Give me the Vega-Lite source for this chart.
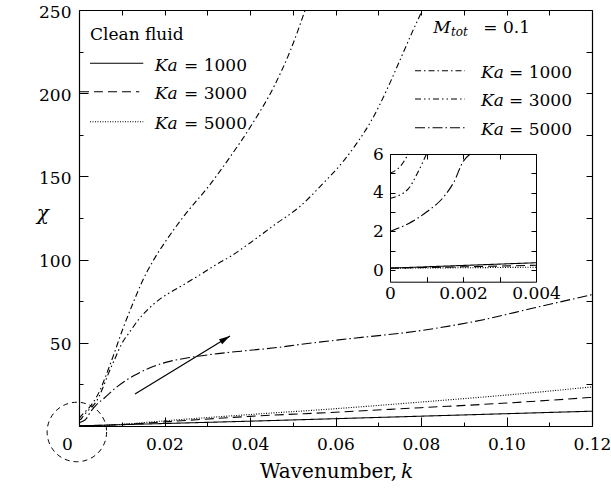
{
  "$schema": "https://vega.github.io/schema/vega-lite/v6.json",
  "width": 513,
  "height": 416,
  "autosize": {"type": "none"},
  "padding": {"left": 79, "top": 10, "right": 19, "bottom": 65},
  "background": "white",
  "config": {
    "view": {"stroke": null},
    "font": "DejaVu Serif",
    "text": {"font": "DejaVu Serif"},
    "axis": {"labelFont": "DejaVu Serif", "labelFontSize": 17, "labelColor": "black", "tickColor": "black", "domainColor": "black", "grid": false, "tickWidth": 1, "domainWidth": 1.2, "labelOverlap": false, "labelBound": false, "labelFlush": false}
  },
  "datasets": {
    "curves": [
      {"s": "c1000", "k": 0, "chi": 0.1}, {"s": "c1000", "k": 0.002, "chi": 0.24}, {"s": "c1000", "k": 0.004, "chi": 0.38}, {"s": "c1000", "k": 0.01, "chi": 0.8}, {"s": "c1000", "k": 0.02, "chi": 1.5}, {"s": "c1000", "k": 0.04, "chi": 2.9}, {"s": "c1000", "k": 0.06, "chi": 4.4}, {"s": "c1000", "k": 0.08, "chi": 5.9}, {"s": "c1000", "k": 0.1, "chi": 7.4}, {"s": "c1000", "k": 0.12, "chi": 8.9},
      {"s": "c3000", "k": 0, "chi": 0.1}, {"s": "c3000", "k": 0.002, "chi": 0.17}, {"s": "c3000", "k": 0.004, "chi": 0.25}, {"s": "c3000", "k": 0.01, "chi": 0.9}, {"s": "c3000", "k": 0.02, "chi": 2.5}, {"s": "c3000", "k": 0.04, "chi": 5.8}, {"s": "c3000", "k": 0.06, "chi": 8.3}, {"s": "c3000", "k": 0.08, "chi": 11}, {"s": "c3000", "k": 0.1, "chi": 13.8}, {"s": "c3000", "k": 0.12, "chi": 17.2},
      {"s": "c5000", "k": 0, "chi": 0.1}, {"s": "c5000", "k": 0.002, "chi": 0.12}, {"s": "c5000", "k": 0.004, "chi": 0.15}, {"s": "c5000", "k": 0.01, "chi": 1.0}, {"s": "c5000", "k": 0.02, "chi": 3.1}, {"s": "c5000", "k": 0.04, "chi": 6.9}, {"s": "c5000", "k": 0.06, "chi": 10.4}, {"s": "c5000", "k": 0.08, "chi": 14.4}, {"s": "c5000", "k": 0.1, "chi": 18.6}, {"s": "c5000", "k": 0.12, "chi": 23.5},
      {"s": "m1000", "k": 0, "chi": 5}, {"s": "m1000", "k": 0.0003, "chi": 5.4}, {"s": "m1000", "k": 0.0005, "chi": 6.1}, {"s": "m1000", "k": 0.001, "chi": 7.4}, {"s": "m1000", "k": 0.002, "chi": 10}, {"s": "m1000", "k": 0.003, "chi": 13}, {"s": "m1000", "k": 0.004, "chi": 17}, {"s": "m1000", "k": 0.005, "chi": 22}, {"s": "m1000", "k": 0.0064, "chi": 31}, {"s": "m1000", "k": 0.008, "chi": 42}, {"s": "m1000", "k": 0.0102, "chi": 58}, {"s": "m1000", "k": 0.0125, "chi": 73}, {"s": "m1000", "k": 0.015, "chi": 88}, {"s": "m1000", "k": 0.0175, "chi": 100}, {"s": "m1000", "k": 0.02, "chi": 110}, {"s": "m1000", "k": 0.0248, "chi": 127}, {"s": "m1000", "k": 0.03, "chi": 143}, {"s": "m1000", "k": 0.0357, "chi": 163}, {"s": "m1000", "k": 0.0404, "chi": 181}, {"s": "m1000", "k": 0.0458, "chi": 205}, {"s": "m1000", "k": 0.0495, "chi": 226}, {"s": "m1000", "k": 0.0529, "chi": 250}, {"s": "m1000", "k": 0.055, "chi": 266},
      {"s": "m3000", "k": 0, "chi": 3.7}, {"s": "m3000", "k": 0.0005, "chi": 4.2}, {"s": "m3000", "k": 0.00075, "chi": 5.0}, {"s": "m3000", "k": 0.001, "chi": 6.1}, {"s": "m3000", "k": 0.0015, "chi": 7.6}, {"s": "m3000", "k": 0.0025, "chi": 10.2}, {"s": "m3000", "k": 0.004, "chi": 14.5}, {"s": "m3000", "k": 0.0055, "chi": 22.5}, {"s": "m3000", "k": 0.0068, "chi": 31}, {"s": "m3000", "k": 0.0085, "chi": 41}, {"s": "m3000", "k": 0.0099, "chi": 49}, {"s": "m3000", "k": 0.012, "chi": 57}, {"s": "m3000", "k": 0.0138, "chi": 63.5}, {"s": "m3000", "k": 0.0165, "chi": 71}, {"s": "m3000", "k": 0.0193, "chi": 77}, {"s": "m3000", "k": 0.0225, "chi": 82}, {"s": "m3000", "k": 0.0255, "chi": 86.5}, {"s": "m3000", "k": 0.029, "chi": 92}, {"s": "m3000", "k": 0.0321, "chi": 97}, {"s": "m3000", "k": 0.0355, "chi": 102}, {"s": "m3000", "k": 0.04, "chi": 110}, {"s": "m3000", "k": 0.0458, "chi": 121}, {"s": "m3000", "k": 0.0517, "chi": 132}, {"s": "m3000", "k": 0.0568, "chi": 145}, {"s": "m3000", "k": 0.0618, "chi": 159}, {"s": "m3000", "k": 0.065, "chi": 170}, {"s": "m3000", "k": 0.0685, "chi": 184}, {"s": "m3000", "k": 0.072, "chi": 202}, {"s": "m3000", "k": 0.0751, "chi": 220}, {"s": "m3000", "k": 0.078, "chi": 237}, {"s": "m3000", "k": 0.0805, "chi": 251}, {"s": "m3000", "k": 0.082, "chi": 260},
      {"s": "m5000", "k": 0, "chi": 2}, {"s": "m5000", "k": 0.0005, "chi": 2.4}, {"s": "m5000", "k": 0.001, "chi": 3.0}, {"s": "m5000", "k": 0.0015, "chi": 3.85}, {"s": "m5000", "k": 0.00175, "chi": 4.55}, {"s": "m5000", "k": 0.002, "chi": 5.6}, {"s": "m5000", "k": 0.0022, "chi": 6.5}, {"s": "m5000", "k": 0.003, "chi": 9.5}, {"s": "m5000", "k": 0.004, "chi": 12.5}, {"s": "m5000", "k": 0.006, "chi": 17}, {"s": "m5000", "k": 0.0091, "chi": 24}, {"s": "m5000", "k": 0.013, "chi": 30.5}, {"s": "m5000", "k": 0.0193, "chi": 37.5}, {"s": "m5000", "k": 0.0255, "chi": 41}, {"s": "m5000", "k": 0.0325, "chi": 43.5}, {"s": "m5000", "k": 0.04, "chi": 45.5}, {"s": "m5000", "k": 0.0458, "chi": 47}, {"s": "m5000", "k": 0.0517, "chi": 49}, {"s": "m5000", "k": 0.0634, "chi": 52.5}, {"s": "m5000", "k": 0.079, "chi": 57}, {"s": "m5000", "k": 0.0946, "chi": 63.9}, {"s": "m5000", "k": 0.1063, "chi": 70.9}, {"s": "m5000", "k": 0.12, "chi": 78.9}
    ],
    "legendLines": [
      {"s": "c1000", "k": 0.00257, "k2": 0.01504, "chi": 217.97},
      {"s": "c3000", "k": 0.00023, "k2": 0.0141, "chi": 200.9},
      {"s": "c5000", "k": 0.00257, "k2": 0.01504, "chi": 182.87},
      {"s": "m1000", "k": 0.0786, "k2": 0.0903, "chi": 213.52},
      {"s": "m3000", "k": 0.0786, "k2": 0.0903, "chi": 196.51},
      {"s": "m5000", "k": 0.0786, "k2": 0.0903, "chi": 179.27}
    ],
    "italicText": [
      {"t": "Ka", "k": 0.01772, "chi": 213.46},
      {"t": "Ka", "k": 0.01772, "chi": 196.39},
      {"t": "Ka", "k": 0.01772, "chi": 178.37},
      {"t": "Ka", "k": 0.09404, "chi": 209.01},
      {"t": "Ka", "k": 0.09404, "chi": 192.01},
      {"t": "Ka", "k": 0.09404, "chi": 174.76},
      {"t": "M", "k": 0.08288, "chi": 236.0}
    ],
    "romanText": [
      {"t": "= 1000", "k": 0.0393, "chi": 213.46},
      {"t": "= 3000", "k": 0.0393, "chi": 196.39},
      {"t": "= 5000", "k": 0.0393, "chi": 178.37},
      {"t": "= 1000", "k": 0.11532, "chi": 209.01},
      {"t": "= 3000", "k": 0.11532, "chi": 192.01},
      {"t": "= 5000", "k": 0.11532, "chi": 174.76},
      {"t": "= 0.1", "k": 0.1055, "chi": 236.0}
    ],
    "headText": [{"t": "Clean fluid", "k": 0.00257, "chi": 231.97}],
    "subText": [{"t": "tot", "k": 0.08702, "chi": 234.2}],
    "titleRoman": [{"t": "Wavenumber,", "k": 0.07439, "chi": -31.25}],
    "titleItalic": [{"t": "k", "k": 0.07532, "chi": -31.25}, {"t": "χ", "k": -0.009895, "chi": 123.8}],
    "arrow": [{"k": 0.0131, "chi": 19.2}, {"k": 0.03532, "chi": 54.1}],
    "arrowHead": [{"k": 0.03532, "chi": 54.1}],
    "circle": [{"k": -0.0005, "chi": -3.6}]
  },
  "resolve": {
    "scale": {"x": "independent", "y": "independent", "strokeDash": "independent"},
    "axis": {"x": "independent", "y": "independent"}
  },
  "layer": [
    {
      "data": {"name": "curves"},
      "mark": {"type": "line", "clip": true, "strokeWidth": 1.1, "color": "black", "interpolate": "monotone"},
      "encoding": {
        "x": {"field": "k", "type": "quantitative", "scale": {"domain": [0, 0.12], "nice": false, "zero": false},
          "axis": {"orient": "bottom", "title": null, "values": [0, 0.02, 0.04, 0.06, 0.08, 0.1, 0.12], "tickSize": -9, "labelPadding": 19,
            "labelExpr": "datum.value == 0 ? '0' : format(datum.value, '.2f')",
            "labelOffset": {"condition": {"test": "datum.value == 0", "value": -12}, "value": 0}}},
        "y": {"field": "chi", "type": "quantitative", "scale": {"domain": [0, 250], "nice": false, "zero": false},
          "axis": {"orient": "left", "title": null, "values": [0, 50, 100, 150, 200, 250], "tickSize": -9, "labelPadding": 17, "labelOffset": 2,
            "labelExpr": "datum.value == 0 ? '' : datum.label"}},
        "strokeDash": {"field": "s", "type": "nominal", "legend": null,
          "scale": {"domain": ["c1000", "c3000", "c5000", "m1000", "m3000", "m5000"],
            "range": [[1, 0], [9, 5], [1, 1.5], [6, 3, 1.5, 3], [6, 3, 1.5, 3, 1.5, 3], [10, 3, 1.5, 3]]}}
      }
    },
    {
      "data": {"name": "italicText"},
      "mark": {"type": "text", "align": "left", "baseline": "alphabetic", "fontStyle": "italic", "fontSize": 17, "font": "DejaVu Serif", "color": "black"},
      "encoding": {
        "x": {"field": "k", "type": "quantitative", "scale": {"domain": [0, 0.12], "nice": false, "zero": false},
          "axis": {"orient": "bottom", "title": null, "values": [0.01, 0.03, 0.05, 0.07, 0.09, 0.11], "tickSize": -4, "labels": false, "domain": false}},
        "y": {"field": "chi", "type": "quantitative", "scale": {"domain": [0, 250], "nice": false, "zero": false},
          "axis": {"orient": "left", "title": null, "values": [25, 75, 125, 175, 225], "tickSize": -4, "labels": false, "domain": false}},
        "text": {"field": "t"}
      }
    },
    {
      "data": {"name": "romanText"},
      "mark": {"type": "text", "align": "right", "baseline": "alphabetic", "fontSize": 17, "font": "DejaVu Serif", "color": "black"},
      "encoding": {
        "x": {"field": "k", "type": "quantitative", "scale": {"domain": [0, 0.12], "nice": false, "zero": false},
          "axis": {"orient": "top", "title": null, "values": [0, 0.01, 0.02, 0.03, 0.04, 0.05, 0.06, 0.07, 0.08, 0.09, 0.1, 0.11, 0.12], "tickSize": -5, "labels": false}},
        "y": {"field": "chi", "type": "quantitative", "scale": {"domain": [0, 250], "nice": false, "zero": false},
          "axis": {"orient": "right", "title": null, "values": [0, 25, 50, 75, 100, 125, 150, 175, 200, 225, 250], "tickSize": -6, "labels": false}},
        "text": {"field": "t"}
      }
    },
    {
      "data": {"name": "headText"},
      "mark": {"type": "text", "align": "left", "baseline": "alphabetic", "fontSize": 17, "font": "DejaVu Serif", "color": "black"},
      "encoding": {
        "x": {"field": "k", "type": "quantitative", "scale": {"domain": [0, 0.12], "nice": false, "zero": false}, "axis": null},
        "y": {"field": "chi", "type": "quantitative", "scale": {"domain": [0, 250], "nice": false, "zero": false}, "axis": null},
        "text": {"field": "t"}
      }
    },
    {
      "data": {"name": "legendLines"},
      "mark": {"type": "rule", "strokeWidth": 1.1, "color": "black"},
      "encoding": {
        "x": {"field": "k", "type": "quantitative", "scale": {"domain": [0, 0.12], "nice": false, "zero": false}, "axis": null},
        "x2": {"field": "k2"},
        "y": {"field": "chi", "type": "quantitative", "scale": {"domain": [0, 250], "nice": false, "zero": false}, "axis": null},
        "strokeDash": {"field": "s", "type": "nominal", "legend": null,
          "scale": {"domain": ["c1000", "c3000", "c5000", "m1000", "m3000", "m5000"],
            "range": [[1, 0], [9, 5], [1, 1.5], [6, 3, 1.5, 3], [6, 3, 1.5, 3, 1.5, 3], [10, 3, 1.5, 3]]}}
      }
    },
    {
      "data": {"name": "subText"},
      "mark": {"type": "text", "align": "left", "baseline": "alphabetic", "fontStyle": "italic", "fontSize": 12, "font": "DejaVu Serif", "color": "black"},
      "encoding": {
        "x": {"field": "k", "type": "quantitative", "scale": {"domain": [0, 0.12], "nice": false, "zero": false}, "axis": null},
        "y": {"field": "chi", "type": "quantitative", "scale": {"domain": [0, 250], "nice": false, "zero": false}, "axis": null},
        "text": {"field": "t"}
      }
    },
    {
      "data": {"name": "titleRoman"},
      "mark": {"type": "text", "align": "right", "baseline": "alphabetic", "fontSize": 20, "font": "DejaVu Serif", "color": "black"},
      "encoding": {
        "x": {"field": "k", "type": "quantitative", "scale": {"domain": [0, 0.12], "nice": false, "zero": false}, "axis": null},
        "y": {"field": "chi", "type": "quantitative", "scale": {"domain": [0, 250], "nice": false, "zero": false}, "axis": null},
        "text": {"field": "t"}
      }
    },
    {
      "data": {"name": "titleItalic"},
      "mark": {"type": "text", "align": "left", "baseline": "alphabetic", "fontStyle": "italic", "fontSize": 20, "font": "DejaVu Serif", "color": "black"},
      "encoding": {
        "x": {"field": "k", "type": "quantitative", "scale": {"domain": [0, 0.12], "nice": false, "zero": false}, "axis": null},
        "y": {"field": "chi", "type": "quantitative", "scale": {"domain": [0, 250], "nice": false, "zero": false}, "axis": null},
        "text": {"field": "t"}
      }
    },
    {
      "data": {"name": "arrow"},
      "mark": {"type": "line", "strokeWidth": 1.2, "color": "black"},
      "encoding": {
        "x": {"field": "k", "type": "quantitative", "scale": {"domain": [0, 0.12], "nice": false, "zero": false}, "axis": null},
        "y": {"field": "chi", "type": "quantitative", "scale": {"domain": [0, 250], "nice": false, "zero": false}, "axis": null}
      }
    },
    {
      "data": {"name": "arrowHead"},
      "mark": {"type": "point", "shape": "M0,0L0.55,2L-0.55,2Z", "size": 121, "angle": 58.6, "filled": true, "color": "black", "opacity": 1, "strokeWidth": 0},
      "encoding": {
        "x": {"field": "k", "type": "quantitative", "scale": {"domain": [0, 0.12], "nice": false, "zero": false}, "axis": null},
        "y": {"field": "chi", "type": "quantitative", "scale": {"domain": [0, 250], "nice": false, "zero": false}, "axis": null}
      }
    },
    {
      "data": {"name": "circle"},
      "mark": {"type": "point", "shape": "circle", "size": 3540, "filled": false, "color": "black", "opacity": 1, "strokeWidth": 1, "strokeDash": [5, 4]},
      "encoding": {
        "x": {"field": "k", "type": "quantitative", "scale": {"domain": [0, 0.12], "nice": false, "zero": false}, "axis": null},
        "y": {"field": "chi", "type": "quantitative", "scale": {"domain": [0, 250], "nice": false, "zero": false}, "axis": null}
      }
    },
    {
      "data": {"name": "curves"},
      "transform": [{"filter": "datum.k <= 0.0041 && datum.chi <= 6.6"}],
      "mark": {"type": "line", "strokeWidth": 1.1, "color": "black", "interpolate": "monotone"},
      "encoding": {
        "x": {"field": "k", "type": "quantitative", "scale": {"domain": [0, 0.004], "range": [311, 457], "nice": false, "zero": false, "clamp": true},
          "axis": {"orient": "bottom", "offset": -144.3, "title": null, "values": [0, 0.001, 0.002, 0.003, 0.004], "tickSize": -5, "labelPadding": 9, "domainWidth": 1,
            "labelExpr": "datum.value == 0 ? '0' : (abs(datum.value - 0.002) < 1e-9 ? '0.002' : (abs(datum.value - 0.004) < 1e-9 ? '0.004' : ''))"}},
        "y": {"field": "chi", "type": "quantitative", "scale": {"domain": [-0.6, 6], "range": [271.7, 144], "nice": false, "zero": false, "clamp": true},
          "axis": {"orient": "left", "offset": -311, "title": null, "values": [0, 1, 2, 3, 4, 5, 6], "tickSize": -5, "labelPadding": 11.7, "domainWidth": 1,
            "labelExpr": "datum.value % 2 == 0 ? datum.label : ''"}},
        "strokeDash": {"field": "s", "type": "nominal", "legend": null,
          "scale": {"domain": ["c1000", "c3000", "c5000", "m1000", "m3000", "m5000"],
            "range": [[1, 0], [9, 5], [1, 1.5], [6, 3, 1.5, 3], [6, 3, 1.5, 3, 1.5, 3], [10, 3, 1.5, 3]]}}
      }
    },
    {
      "data": {"name": "curves"},
      "transform": [{"filter": "datum.k <= 0.0041 && datum.chi <= 6.6"}],
      "mark": {"type": "point", "opacity": 0},
      "encoding": {
        "x": {"field": "k", "type": "quantitative", "scale": {"domain": [0, 0.004], "range": [311, 457], "nice": false, "zero": false, "clamp": true},
          "axis": {"orient": "top", "offset": -144, "title": null, "values": [0, 0.001, 0.002, 0.003, 0.004], "tickSize": -5, "labels": false, "domainWidth": 1}},
        "y": {"field": "chi", "type": "quantitative", "scale": {"domain": [-0.6, 6], "range": [271.7, 144], "nice": false, "zero": false, "clamp": true},
          "axis": {"orient": "right", "offset": -56, "title": null, "values": [0, 1, 2, 3, 4, 5, 6], "tickSize": -5, "labels": false, "domainWidth": 1}}
      }
    }
  ]
}
